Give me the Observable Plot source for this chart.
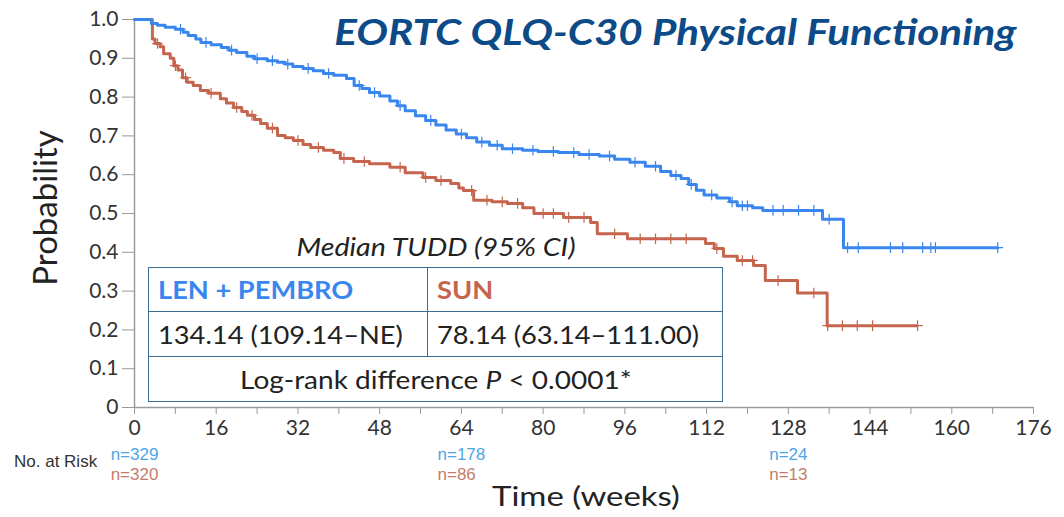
<!DOCTYPE html>
<html><head><meta charset="utf-8">
<script src="https://cdn.jsdelivr.net/npm/d3@7"></script>
<script src="https://cdn.jsdelivr.net/npm/@observablehq/plot@0.6"></script>
<style>
body{margin:0;background:#fff;}
#wrap{position:relative;width:1064px;height:517px;font-family:Lato,"Open Sans",sans-serif;color:#222;}
#wrap svg{position:absolute;left:0;top:0;}
.ov{position:absolute;white-space:nowrap;}
#title{right:47px;top:12px;font-size:37px;font-weight:700;font-style:italic;color:#0c4a88;line-height:1;transform:scaleX(1.14);transform-origin:right center;}
#ylab{left:44px;top:208px;font-size:33px;transform:translate(-50%,-50%) rotate(-90deg);line-height:1;}
#xlab{left:586px;top:481px;font-size:27px;transform:translateX(-50%) scaleX(1.22);line-height:1.1;}
#risk{left:14px;top:452px;font-family:"Liberation Sans",Arial,sans-serif;font-size:17px;color:#333;}
#median{left:436px;top:231px;font-size:26px;font-style:italic;transform:translateX(-50%) scaleX(1.1);line-height:1.2;}
#tbl{left:148px;top:267px;width:575px;height:135px;border:1.5px solid #3d6e94;box-sizing:border-box;}
.row{position:absolute;left:0;width:100%;height:45px;box-sizing:border-box;font-size:25px;line-height:44px;}
.cell{position:absolute;top:0;height:100%;padding-left:9px;box-sizing:border-box;}
.txt{display:inline-block;transform:scaleX(1.09);transform-origin:left center;}
.ctr{display:inline-block;transform:scaleX(1.12);transform-origin:center center;}
</style>
</head><body><div id="wrap">
<div class="ov" id="title">EORTC QLQ-C30 Physical Functioning</div>
<div class="ov" id="ylab">Probability</div>
<div class="ov" id="xlab">Time (weeks)</div>
<div class="ov" id="risk">No. at Risk</div>
<div class="ov" id="median">Median TUDD (95% CI)</div>
<div class="ov" id="tbl"></div>
</div>
<script>
// LEN + PEMBRO Kaplan-Meier (time in weeks, probability)
const lenTime = [0,3.3,4.5,6,8,9.5,10.5,12,13,15,17,18.5,20,22,23.5,26,28,29.5,31,33,35,37,39,41.5,43,44.5,46,48,50,51.5,53,55,57,59,61,63,65,67,69.5,72,76,79,83,87,91,94,97,100,103,105,107,108.5,110,111.5,114,116.5,118,121,123,134.7,138.8,169];
const lenSurv = [1,0.99,0.985,0.98,0.975,0.967,0.959,0.95,0.941,0.935,0.928,0.921,0.915,0.905,0.899,0.894,0.89,0.885,0.879,0.874,0.868,0.861,0.856,0.848,0.83,0.822,0.812,0.803,0.79,0.778,0.765,0.752,0.74,0.728,0.715,0.705,0.695,0.684,0.676,0.667,0.663,0.66,0.657,0.652,0.648,0.64,0.632,0.622,0.608,0.598,0.59,0.575,0.56,0.548,0.54,0.53,0.52,0.515,0.508,0.485,0.412,0.412];
// SUN
const sunTime = [0,3.5,4,5,5.7,7,7.7,8.5,9.4,10.3,11.5,12.9,14.5,16.8,18,19.4,21,22.1,23.5,24.7,26,28,29.5,31.1,33,34.5,37,39,40.3,42.9,46,50,53,56.5,59,61.9,63.5,64.4,66.4,70,73,76,78.2,84,89.3,90.6,96.5,111.8,113.5,115.3,118,121.2,123.5,129.8,135.6,153.2];
const sunSurv = [1,0.95,0.938,0.93,0.912,0.9,0.881,0.87,0.85,0.838,0.83,0.817,0.81,0.796,0.785,0.773,0.763,0.753,0.742,0.732,0.72,0.701,0.695,0.688,0.678,0.67,0.663,0.657,0.642,0.634,0.628,0.619,0.605,0.593,0.585,0.577,0.566,0.559,0.534,0.53,0.526,0.515,0.5,0.49,0.477,0.448,0.435,0.423,0.41,0.39,0.379,0.366,0.327,0.295,0.211,0.211];
// censoring times
const lenCensor = [9,14,19,24,27,30,34,38,44,47,52,58,64,68,71,74,78,82,86,89,93,98,102,106,109,113,117,119,120,125,127,130,133,136,139.6,141.7,148,150.4,154.3,155.9,156.8,169];
const sunCensor = [4.5,8,10,15,20,23,27,32,36,41,45,52,57,60,66,69,72,75,80,82,85,88,94,99,102,105,108,114,119,121,126,133,135.7,138.6,141.5,144.5,153.3];
// number at risk
const riskTimes = [0,64,128];
const riskLen = [329,178,24];
const riskSun = [320,86,13];
// axis ticks
const xTicks = d3.range(0,177,8);
const yTicks = [0,0.1,0.2,0.3,0.4,0.5,0.6,0.7,0.8,0.9,1.0];
// table text
const armNames = ["LEN + PEMBRO","SUN"];
const medians = ["134.14 (109.14–NE)","78.14 (63.14–111.00)"];

const blue = "#3a86ef", red = "#c6654d";
const blueN = "#4ea6e6", redN = "#c47d6a";

const toRows = (ts, ss) => ts.map((t,i)=>({t, s:ss[i]}));
const stepAt = (ts, ss, t) => { let v = ss[0]; for (let i=0;i<ts.length;i++){ if (ts[i] <= t) v = ss[i]; } return v; };
// pad the SUN count with figure spaces so it lines up left with the LEN count
const padTo = (s, ref) => s + "\u2007".repeat(Math.max(0, ref.length - s.length));

const chart = Plot.plot({
  width:1064, height:517,
  marginLeft:134, marginRight:31, marginTop:19, marginBottom:110,
  style:{fontFamily:"Lato, sans-serif", color:"#333", background:"transparent", overflow:"visible"},
  x:{domain:[0,176]},
  y:{domain:[0,1]},
  marks:[
    Plot.axisX({ticks:xTicks, tickSize:7, tickPadding:6, stroke:"#9a9a9a", fontSize:21, tickFormat:d => d % 16 === 0 ? String(d) : "", label:null}),
    Plot.axisY({ticks:yTicks, tickSize:12, tickPadding:4, stroke:"#9a9a9a", fontSize:21, tickFormat:d => d === 0 ? "0" : d.toFixed(1), label:null}),
    Plot.ruleY([0],{stroke:"#9a9a9a", strokeWidth:1.5}),
    Plot.ruleX([0],{stroke:"#9a9a9a", strokeWidth:1.5}),
    Plot.line(toRows(sunTime,sunSurv),{x:"t", y:"s", curve:"step-after", stroke:red, strokeWidth:3}),
    Plot.line(toRows(lenTime,lenSurv),{x:"t", y:"s", curve:"step-after", stroke:blue, strokeWidth:3}),
    Plot.dot(sunCensor,{x:d=>d, y:d=>stepAt(sunTime,sunSurv,d), symbol:"plus", r:3.5, stroke:red, strokeWidth:1.2}),
    Plot.dot(lenCensor,{x:d=>d, y:d=>stepAt(lenTime,lenSurv,d), symbol:"plus", r:3.5, stroke:blue, strokeWidth:1.2}),
    Plot.text(riskTimes,{x:d=>d, frameAnchor:"bottom", dy:52, text:(d,i)=>"n="+riskLen[i], fill:blueN, fontSize:17, fontFamily:"Liberation Sans, Arial, sans-serif"}),
    Plot.text(riskTimes,{x:d=>d, frameAnchor:"bottom", dy:72, text:(d,i)=>padTo("n="+riskSun[i], "n="+riskLen[i]), fill:redN, fontSize:17, fontFamily:"Liberation Sans, Arial, sans-serif"})
  ]
});
document.getElementById("wrap").prepend(chart);

// table
const tbl = document.getElementById("tbl");
const colW = 279;
const rowsDef = [
  [{text:armNames[0], color:blue, bold:true},{text:armNames[1], color:red, bold:true}],
  [{text:medians[0]},{text:medians[1]}]
];
rowsDef.forEach((r,ri)=>{
  const row = document.createElement("div");
  row.className="row"; row.style.top = (ri*45 - 1.5) + "px";
  row.style.borderBottom = "1.5px solid #3d6e94";
  r.forEach((c,ci)=>{
    const cell = document.createElement("div");
    cell.className="cell";
    cell.style.left = ci===0 ? "0px" : colW+"px";
    cell.style.width = ci===0 ? colW+"px" : (575-colW)+"px";
    if (ci===0) cell.style.borderRight = "1.5px solid #3d6e94";
    const span = document.createElement("span");
    span.className = "txt";
    span.textContent = c.text;
    if (c.color) span.style.color = c.color;
    if (c.bold) span.style.fontWeight = "700";
    cell.appendChild(span);
    row.appendChild(cell);
  });
  tbl.appendChild(row);
});
const last = document.createElement("div");
last.className="row"; last.style.top = (90 - 1.5) + "px"; last.style.textAlign="center";
last.innerHTML = "<span class='ctr'>Log-rank difference <i>P</i> &lt; 0.0001*</span>";
tbl.appendChild(last);
</script>
</body></html>
